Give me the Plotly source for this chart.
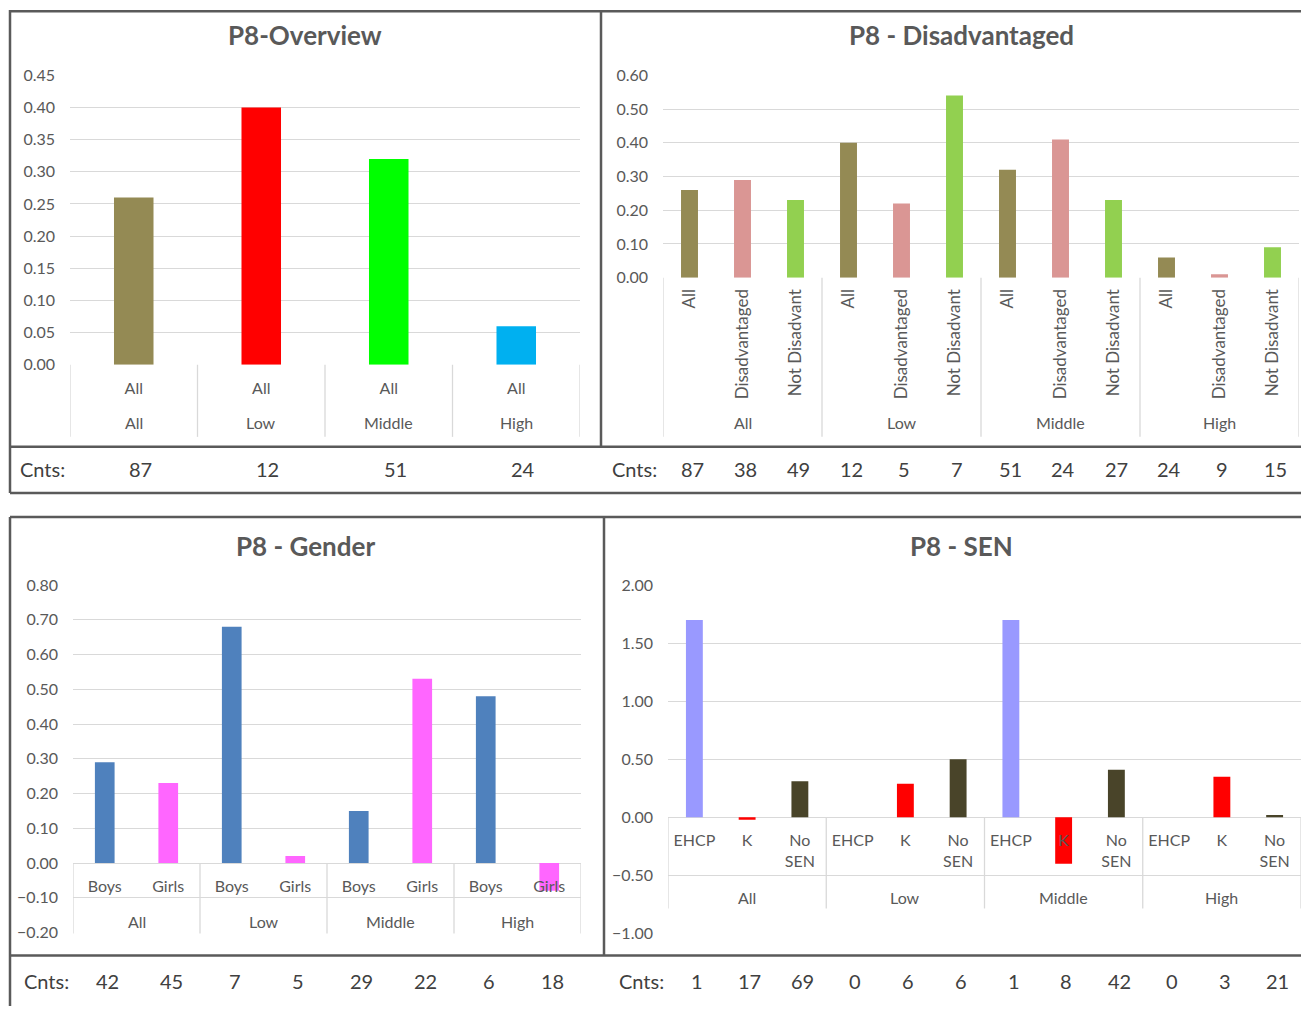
import plotly.graph_objects as go

W, H = 1301, 1015

groups = ["All", "Low", "Middle", "High"]

# ---- P8-Overview ----
ov_sub = ["All"]
ov_values = [0.26, 0.40, 0.32, 0.06]
ov_colors = ["#948A54", "#FF0000", "#00FF00", "#00B0F0"]
ov_counts = [87, 12, 51, 24]

# ---- P8 - Disadvantaged ----
dis_sub = ["All", "Disadvantaged", "Not Disadvant"]
dis_all = [0.26, 0.40, 0.32, 0.06]
dis_dis = [0.29, 0.22, 0.41, 0.01]
dis_not = [0.23, 0.54, 0.23, 0.09]
dis_colors = ["#948A54", "#DA9694", "#92D050"]
dis_counts = [87, 38, 49, 12, 5, 7, 51, 24, 27, 24, 9, 15]

# ---- P8 - Gender ----
gen_sub = ["Boys", "Girls"]
gen_boys = [0.29, 0.68, 0.15, 0.48]
gen_girls = [0.23, 0.02, 0.53, -0.08]
gen_colors = ["#4F81BD", "#FF66FF"]
gen_counts = [42, 45, 7, 5, 29, 22, 6, 18]

# ---- P8 - SEN ----
sen_sub = ["EHCP", "K", "No<br>SEN"]
sen_ehcp = [1.70, None, 1.70, None]
sen_k = [-0.02, 0.29, -0.40, 0.35]
sen_nosen = [0.31, 0.50, 0.41, 0.02]
sen_colors = ["#9999FF", "#FF0000", "#494429"]
sen_counts = [1, 17, 69, 0, 6, 6, 1, 8, 42, 0, 3, 21]

FONT = "Lato"
TXT = "#595959"
GRID = "#D9D9D9"
BORDER = "#5A5A5A"
CNT = "#404040"

# vertical calibration of the page photograph
Y0, YS = 10.7, 0.98


def px(x):
    return min(max(x / W, 0.0), 1.0)


def py(y):
    yp = (y - Y0) / YS
    return min(max(1 - yp / H, 0.0), 1.0)


fig = go.Figure()
shapes = []
annotations = []

panels = [
    dict(i=1, title="P8-Overview", tx=305, ty=36, sub=ov_sub,
         series=[(ov_values, ov_colors)], counts=ov_counts,
         xd=(70, 580), yd=(76, 365), yr=[0, 0.45], dt=0.05, zero=365,
         box_bottom=437, outer_y=423, angle=0, cnt_label_x=18, cnt_y=469, bw=0.31),
    dict(i=2, title="P8 - Disadvantaged", tx=961, ty=36, sub=dis_sub,
         series=[(dis_all, dis_colors[0]), (dis_dis, dis_colors[1]), (dis_not, dis_colors[2])],
         counts=dis_counts,
         xd=(663, 1299), yd=(76, 278), yr=[0, 0.60], dt=0.10, zero=278,
         box_bottom=437, outer_y=423, angle=-90, cnt_label_x=610, cnt_y=469, bw=0.32),
    dict(i=3, title="P8 - Gender", tx=305, ty=546, sub=gen_sub,
         series=[(gen_boys, gen_colors[0]), (gen_girls, gen_colors[1])],
         counts=gen_counts,
         xd=(73, 581), yd=(585, 932), yr=[-0.20, 0.80], dt=0.10, zero=863,
         box_bottom=933, outer_y=921, angle=0, cnt_label_x=22, cnt_y=980, bw=0.31),
    dict(i=4, title="P8 - SEN", tx=962, ty=546, sub=sen_sub,
         series=[(sen_ehcp, sen_colors[0]), (sen_k, sen_colors[1]), (sen_nosen, sen_colors[2])],
         counts=sen_counts,
         xd=(668, 1301), yd=(585, 933), yr=[-1.00, 2.00], dt=0.50, zero=817,
         box_bottom=908, outer_y=897, angle=0, cnt_label_x=617, cnt_y=980, bw=0.32),
]

layout = dict(
    width=W, height=H, autosize=False,
    margin=dict(l=0, r=0, t=0, b=0, pad=0),
    paper_bgcolor="white", plot_bgcolor="white",
    showlegend=False, barmode="overlay",
    font=dict(family=FONT, color=TXT),
)

for p in panels:
    i = p["i"]
    ns = len(p["sub"])
    n = ns * len(groups)
    xa = "x" if i == 1 else f"x{i}"
    ya = "y" if i == 1 else f"y{i}"
    for s, (vals, col) in enumerate(p["series"]):
        fig.add_trace(go.Bar(
            x=[g * ns + s for g in range(len(groups))], y=vals,
            width=p["bw"], marker=dict(color=col, line=dict(width=0)),
            xaxis=xa, yaxis=ya, hoverinfo="x+y"))
    layout["xaxis" if i == 1 else f"xaxis{i}"] = dict(
        domain=[px(p["xd"][0]), px(p["xd"][1])], range=[-0.5, n - 0.5],
        tickmode="array", tickvals=list(range(n)), ticktext=p["sub"] * len(groups),
        tickangle=p["angle"], showgrid=False, zeroline=False, showline=False,
        ticks="", anchor="free", position=py(p["zero"]),
        ticklabelstandoff=12 if p["angle"] == 0 else 7,
        tickfont=dict(family=FONT, size=16 if p["angle"] == 0 else 17, color=TXT),
        fixedrange=True)
    layout["yaxis" if i == 1 else f"yaxis{i}"] = dict(
        domain=[py(p["yd"][1]), py(p["yd"][0])], range=p["yr"],
        dtick=p["dt"], tick0=0, tickformat=".2f", showgrid=True, gridcolor=GRID,
        gridwidth=1.3, zeroline=False, showline=False, ticks="", anchor=xa,
        ticklabelstandoff=14, tickfont=dict(family=FONT, size=16, color=TXT),
        fixedrange=True)
    for g in range(len(groups) + 1):
        shapes.append(dict(type="line", xref=xa, yref="paper",
                           x0=g * ns - 0.5, x1=g * ns - 0.5,
                           y0=py(p["zero"]), y1=py(p["box_bottom"]),
                           line=dict(color=GRID, width=1.3)))
    for g, name in enumerate(groups):
        annotations.append(dict(xref=xa, yref="paper", x=g * ns + (ns - 1) / 2,
                                y=py(p["outer_y"]), text=name, showarrow=False,
                                xanchor="center", yanchor="middle",
                                font=dict(family=FONT, size=16, color=TXT)))
    annotations.append(dict(xref="paper", yref="paper", x=px(p["tx"]), y=py(p["ty"]),
                            text=f"<b>{p['title']}</b>", showarrow=False,
                            xanchor="center", yanchor="middle",
                            font=dict(family=FONT, size=26, color=TXT)))
    annotations.append(dict(xref="paper", yref="paper", x=px(p["cnt_label_x"]),
                            y=py(p["cnt_y"]), text="Cnts:", showarrow=False,
                            xanchor="left", yanchor="middle",
                            font=dict(family=FONT, size=20, color=CNT)))
    for k, c in enumerate(p["counts"]):
        annotations.append(dict(xref=xa, yref="paper", x=k + 0.05, y=py(p["cnt_y"]),
                                text=str(c), showarrow=False, xanchor="center",
                                yanchor="middle",
                                font=dict(family=FONT, size=20, color=CNT)))


def hline(y, x0, x1):
    yy = min(py(y), 1 - 1.3 / H)
    shapes.append(dict(type="line", xref="paper", yref="paper", x0=px(x0), x1=px(x1),
                       y0=yy, y1=yy, line=dict(color=BORDER, width=2.5)))


def vline(x, y0, y1):
    shapes.append(dict(type="line", xref="paper", yref="paper", x0=px(x), x1=px(x),
                       y0=py(y0), y1=py(y1), line=dict(color=BORDER, width=2.5)))


hline(6, 10, 1301)
hline(447, 10, 1301)
hline(493, 10, 1301)
vline(10, 6, 493)
vline(601, 6, 447)
hline(517, 10, 1301)
hline(955, 10, 1301)
vline(10, 517, 1015)
vline(604, 517, 955)

layout["shapes"] = shapes
layout["annotations"] = annotations
fig.update_layout(**layout)

fig.write_html(
    "out.html",
    config={"displayModeBar": False},
    post_script="document.body.style.margin='0px';document.body.style.overflow='hidden';",
)
